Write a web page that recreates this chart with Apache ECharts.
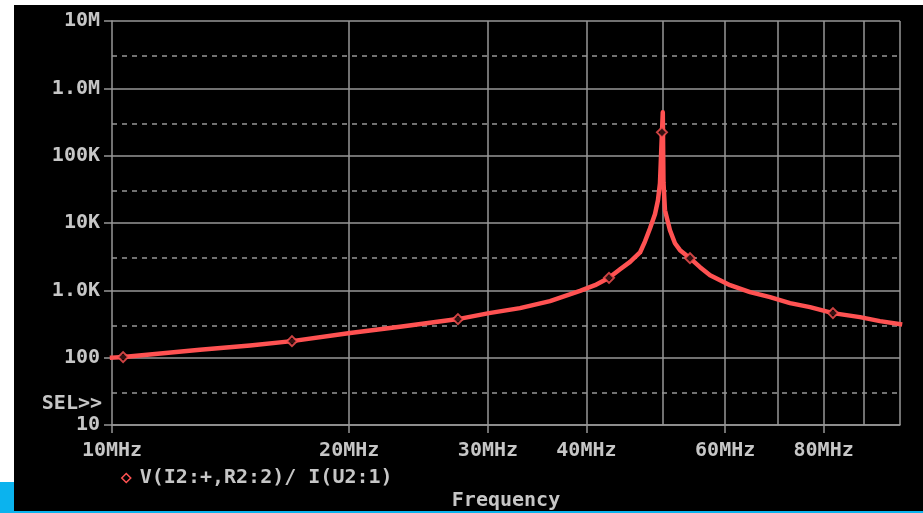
<!DOCTYPE html>
<html>
<head>
<meta charset="utf-8">
<script src="https://cdn.jsdelivr.net/npm/echarts@6/dist/echarts.min.js"></script>
<style>
  html, body { margin: 0; padding: 0; background: #ffffff; }
  #chart { width: 923px; height: 513px; }
</style>
</head>
<body>
<div id="chart"></div>
<script>
// Impedance trace (MHz, ohms)
const traceFreq = [10.0, 10.33, 11.17, 12.93, 14.97, 16.92, 20.05, 23.20, 25.32, 27.48,
  30.09, 32.94, 35.96, 39.26, 41.02, 42.73, 44.13, 45.44, 46.78, 47.46, 48.16, 48.87,
  49.30, 49.59, 49.88, 50.00, 50.10, 50.32, 51.06, 51.81, 52.58, 54.14, 55.75, 57.41,
  60.86, 64.52, 68.41, 72.52, 76.88, 82.21, 88.96, 94.32, 100];
const traceValue = [100, 102, 111, 131, 152, 176, 232, 287, 329, 374,
  459, 544, 692, 983, 1194, 1533, 2050, 2650, 3650, 5300, 8300, 13500,
  21800, 38950, 222000, 441000, 40000, 15500, 7820, 5010, 3950, 3004, 2209, 1681,
  1194, 940, 793, 646, 563, 459, 400, 349, 315];

// Trace markers
const markerFreq = [10.33, 16.92, 27.48, 42.73, 49.88, 54.14, 82.21];
const markerValue = [102, 176, 374, 1533, 222000, 3004, 459];

// Axis ticks and grid
const xLabelTicks = [10, 20, 30, 40, 60, 80];
const xGridLines = [20, 30, 40, 50, 60, 70, 80, 90, 100];
const yDashedLines = [30, 300, 3000, 30000, 300000, 3000000];
const yTickLabels = ['10', '100', '1.0K', '10K', '100K', '1.0M', '10M'];
const selLevel = 30;

const traceName = 'V(I2:+,R2:2)/ I(U2:1)';
const xTitle = 'Frequency';

const FONT = "'DejaVu Sans Mono', 'Liberation Mono', monospace";
const TEXT = '#c6c6c6';
const GRID = '#979797';
const TRACE = '#ff5252';

const chart = echarts.init(document.getElementById('chart'), null, { renderer: 'canvas' });

const markLineData = [];
xGridLines.forEach(v => markLineData.push({ xAxis: v }));
yDashedLines.forEach(v => {
  const item = { yAxis: v, lineStyle: { type: [5, 5], color: GRID, width: 1.5 } };
  if (v === selLevel) {
    item.label = {
      show: true, position: 'start', formatter: 'SEL>>', distance: 10,
      color: TEXT, fontFamily: FONT, fontSize: 20, fontWeight: 'bold',
      verticalAlign: 'top', lineHeight: 22
    };
  }
  markLineData.push(item);
});

const option = {
  backgroundColor: '#ffffff',
  animation: false,
  graphic: [
    { type: 'rect', z: -10, silent: true, shape: { x: 14, y: 5, width: 909, height: 507 }, style: { fill: '#000000' } },
    { type: 'rect', z: -10, silent: true, shape: { x: 0, y: 482, width: 14, height: 31 }, style: { fill: '#0bb3ee' } },
    { type: 'rect', z: -10, silent: true, shape: { x: 0, y: 511, width: 923, height: 2 }, style: { fill: '#0bb3ee' } }
  ],
  grid: { left: 112, top: 21, right: 23, bottom: 88, containLabel: false, outerBoundsMode: 'none' },
  legend: {
    left: 116, top: 463,
    itemWidth: 9, itemHeight: 9, itemGap: 10,
    textStyle: { color: TEXT, fontFamily: FONT, fontSize: 20, fontWeight: 'bold', padding: [0, 0, 0, 4] },
    data: [{ name: traceName, icon: 'diamond',
             itemStyle: { color: '#000000', borderColor: TRACE, borderWidth: 1.5 } }]
  },
  xAxis: {
    type: 'log', logBase: 10, min: 10, max: 100,
    name: xTitle, nameLocation: 'middle', nameGap: 66,
    nameTextStyle: { color: TEXT, fontFamily: FONT, fontSize: 20, fontWeight: 'bold' },
    axisLine: { show: true, lineStyle: { color: GRID, width: 1.5 } },
    axisTick: { show: true, inside: false, length: 8, customValues: xLabelTicks,
                lineStyle: { color: GRID, width: 1.5 } },
    axisLabel: { show: true, customValues: xLabelTicks, margin: 16,
                 color: TEXT, fontFamily: FONT, fontSize: 20, fontWeight: 'bold',
                 formatter: v => Math.round(v) + 'MHz' },
    splitLine: { show: false },
    minorTick: { show: false }
  },
  yAxis: {
    type: 'log', logBase: 10, min: 10, max: 10000000,
    axisLine: { show: true, lineStyle: { color: GRID, width: 1.5 } },
    axisTick: { show: true, inside: false, length: 8, lineStyle: { color: GRID, width: 1.5 } },
    axisLabel: { show: true, margin: 12, color: TEXT, fontFamily: FONT, fontSize: 20, fontWeight: 'bold',
                 formatter: v => yTickLabels[Math.round(Math.log10(v)) - 1] },
    splitLine: { show: true, lineStyle: { color: GRID, width: 1.5, type: 'solid' } }
  },
  series: [
    {
      name: traceName,
      type: 'line',
      z: 3,
      data: traceFreq.map((f, i) => [f, traceValue[i]]),
      showSymbol: false,
      symbol: 'none',
      lineStyle: { color: TRACE, width: 4.5, cap: 'square', join: 'round' },
      itemStyle: { color: TRACE },
      markLine: {
        z: 1,
        silent: true,
        symbol: 'none',
        animation: false,
        label: { show: false },
        lineStyle: { color: GRID, width: 1.5, type: 'solid' },
        data: markLineData
      }
    },
    {
      name: 'markers',
      type: 'scatter',
      z: 4,
      data: markerFreq.map((f, i) => [f, markerValue[i]]),
      symbol: 'diamond',
      symbolSize: 10,
      itemStyle: { color: '#000000', borderColor: TRACE, borderWidth: 2 }
    }
  ]
};

chart.setOption(option);
</script>
</body>
</html>
